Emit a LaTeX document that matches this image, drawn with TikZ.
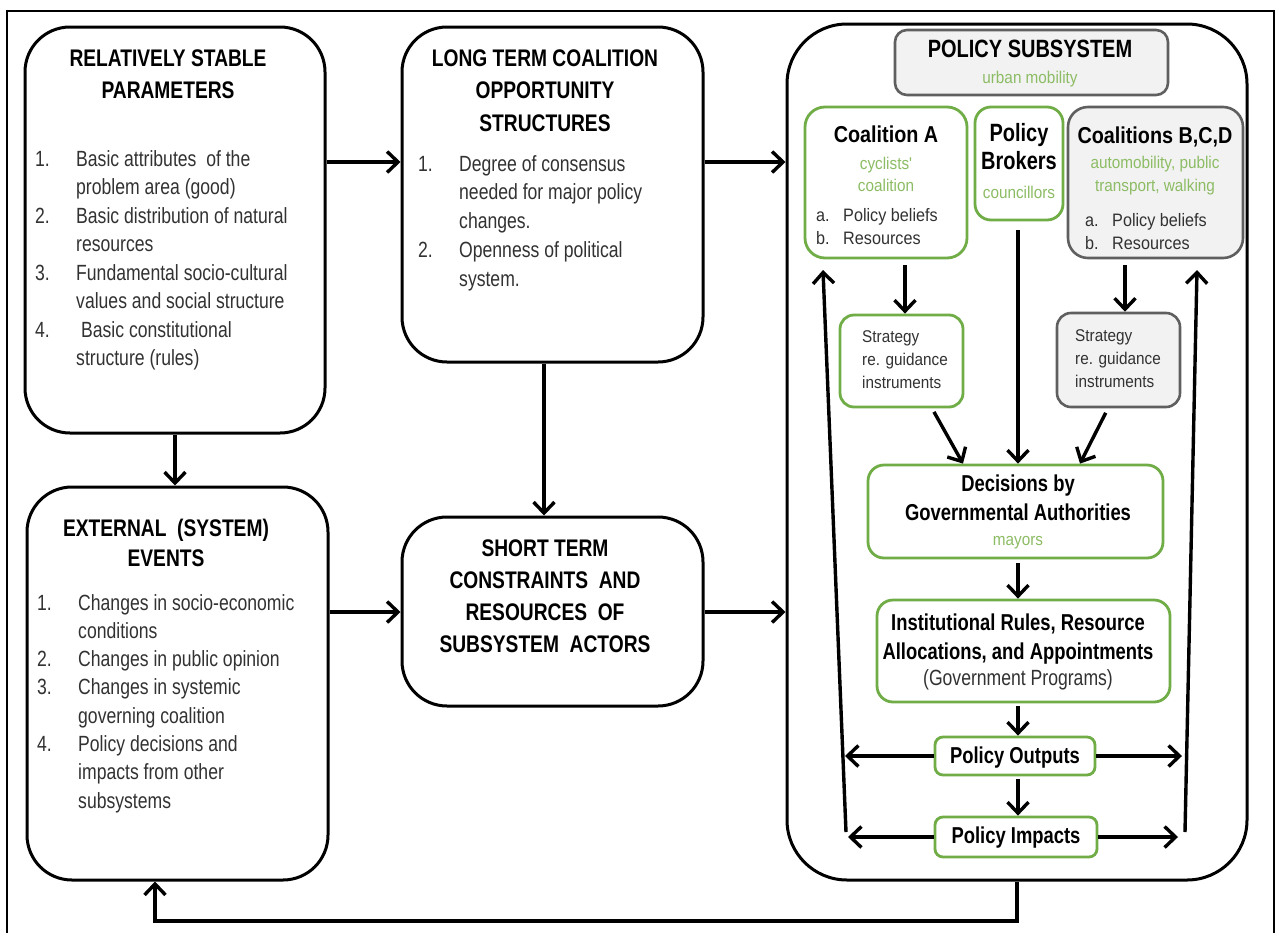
\documentclass[tikz,border=0pt]{standalone}
\usepackage{fontspec}
\setmainfont{Liberation Sans}[FakeStretch=0.8]
\newfontfamily\midfont{Liberation Sans}[FakeStretch=0.86]
\newfontfamily\wfont{Liberation Sans}[FakeStretch=0.9]
\usetikzlibrary{arrows.meta}

\definecolor{leaf}{RGB}{112,173,71}
\definecolor{leaftext}{RGB}{140,188,100}
\definecolor{panel}{RGB}{242,242,242}
\definecolor{panelline}{RGB}{95,95,95}
\definecolor{ink}{RGB}{50,50,50}

% centred stack of lines, baseline at the first line
\newcommand\stack[1]{\begin{tabular}[t]{@{}c@{}}#1\end{tabular}}
% left-aligned stack of lines, baseline at the first line
\newcommand\lstack[1]{\begin{tabular}[t]{@{}l@{}}#1\end{tabular}}
% numbered list: label column of given width, then the text
\newcommand\numlist[2]{\begin{tabular}[t]{@{}p{#1}@{}l@{}}#2\end{tabular}}

\begin{document}
\begin{tikzpicture}[x=1pt,y=-1pt,
  bigbox/.style={draw, line width=3pt, rounded corners=45pt, inner sep=0pt, fill=white},
  greenbox/.style={draw=leaf, line width=2.8pt, rounded corners=14pt, inner sep=0pt, fill=white},
  graybox/.style={draw=panelline, line width=2.6pt, rounded corners=14pt, inner sep=0pt, fill=panel},
  txt/.style={inner sep=0pt, anchor=base},
  ltxt/.style={inner sep=0pt, anchor=base west},
  arr/.style={line width=3.4pt, -{Straight Barb[length=11pt,width=21pt]}},
  bigtitle/.style={font=\fontsize{24}{32}\selectfont\bfseries},
  listfont/.style={font=\fontsize{22}{28.5}\selectfont, text=ink},
  greenfont/.style={font=\wfont\fontsize{17}{22}\selectfont, text=leaftext},
  smallfont/.style={font=\wfont\fontsize{17}{23}\selectfont, text=ink},
  innertitle/.style={font=\fontsize{23}{29}\selectfont\bfseries}
]
\useasboundingbox (0,0) rectangle (1280,932);
\fill[white] (0,0) rectangle (1280,932);

% outer frame
\draw[line width=2.2pt] (7,940) -- (7,11) -- (1274,11) -- (1274,940);

% ---------- left column: relatively stable parameters ----------
\node[bigbox, minimum width=300pt, minimum height=406pt] (rs) at (175,230) {};
\node[txt, bigtitle] (rsT) at (168,66) {\stack{RELATIVELY STABLE\\PARAMETERS}};
\node[ltxt, listfont] (rsL) at (35,166) {\numlist{41pt}{%
  1. & Basic attributes\ \ of the\\
     & problem area (good)\\
  2. & Basic distribution\ of natural\\
     & resources\\
  3. & Fundamental socio-cultural\\
     & values and social structure\\
  4. & \ Basic constitutional\\
     & structure (rules)}};

% ---------- middle column: long term coalition opportunity structures ----------
\node[bigbox, minimum width=301pt, minimum height=335pt] (lt) at (552.5,194.5) {};
\node[txt, font=\fontsize{24}{32.5}\selectfont\bfseries] (ltT) at (545,66)
  {\stack{LONG TERM COALITION\\OPPORTUNITY\\STRUCTURES}};
\node[ltxt, font=\fontsize{22}{28.8}\selectfont, text=ink] (ltL) at (418,171) {\numlist{41pt}{%
  1. & Degree of consensus\\
     & needed for major policy\\
     & changes.\\
  2. & Openness of political\\
     & system.}};

% ---------- left column: external events ----------
\node[bigbox, minimum width=301pt, minimum height=393pt] (ex) at (177.5,683.5) {};
\node[txt, font=\fontsize{24}{30}\selectfont\bfseries] (exT) at (166,536)
  {\stack{EXTERNAL\ \ (SYSTEM)\\EVENTS}};
\node[ltxt, font=\fontsize{22}{28.3}\selectfont, text=ink] (exL) at (37,610) {\numlist{41pt}{%
  1. & Changes in socio-economic\\
     & conditions\\
  2. & Changes in public opinion\\
  3. & Changes in systemic\\
     & governing coalition\\
  4. & Policy decisions and\\
     & impacts from other\\
     & subsystems}};

% ---------- middle column: short term constraints ----------
\node[bigbox, minimum width=301pt, minimum height=189pt] (st) at (552.5,611.5) {};
\node[txt, font=\fontsize{24}{32.3}\selectfont\bfseries] (stT) at (545,556)
  {\stack{SHORT TERM\\CONSTRAINTS\ \ AND\\RESOURCES\ \ OF\\SUBSYSTEM\ \ ACTORS}};

% ---------- policy subsystem ----------
\node[draw, line width=3pt, rounded corners=60pt, inner sep=0pt,
      minimum width=460pt, minimum height=856pt] (sub) at (1017,452) {};

\node[graybox, rounded corners=12pt, minimum width=273pt, minimum height=65pt] (hdr) at (1031.5,62.5) {};
\node[txt, font=\fontsize{25}{30}\selectfont\bfseries] (hdrT) at (1030,57) {POLICY SUBSYSTEM};
\node[txt, greenfont] (hdrS) at (1030,83) {urban mobility};

% coalition A
\node[greenbox, rounded corners=20pt, minimum width=162pt, minimum height=151pt] (ca) at (886,182.5) {};
\node[txt, font=\midfont\fontsize{23}{29}\selectfont\bfseries] (caT) at (886,142) {Coalition A};
\node[txt, greenfont] (caS) at (886,169) {\stack{cyclists'\\coalition}};
\node[ltxt, font=\wfont\fontsize{18}{23.5}\selectfont, text=ink] (caL) at (816,221)
  {\numlist{27pt}{a. & Policy beliefs\\ b. & Resources}};

% policy brokers
\node[greenbox, rounded corners=16pt, minimum width=88pt, minimum height=113pt] (pb) at (1019,163.5) {};
\node[txt, font=\fontsize{25}{28}\selectfont\bfseries] (pbT) at (1019,141) {\stack{Policy\\Brokers}};
\node[txt, greenfont] (pbS) at (1019,198) {councillors};

% coalitions B, C, D
\node[graybox, rounded corners=20pt, minimum width=175pt, minimum height=151pt] (cb) at (1155.5,182.5) {};
\node[txt, font=\midfont\fontsize{23}{29}\selectfont\bfseries] (cbT) at (1155,143) {Coalitions B,C,D};
\node[txt, font=\wfont\fontsize{17}{23}\selectfont, text=leaftext] (cbS) at (1155,168)
  {\stack{automobility, public\\transport, walking}};
\node[ltxt, font=\wfont\fontsize{18}{23.5}\selectfont, text=ink] (cbL) at (1085,226)
  {\numlist{27pt}{a. & Policy beliefs\\ b. & Resources}};

% strategies
\node[greenbox, rounded corners=14pt, minimum width=123pt, minimum height=92pt] (sa) at (901.5,361) {};
\node[ltxt, smallfont] (saT) at (862,342) {\lstack{Strategy\\re. guidance\\instruments}};
\node[graybox, rounded corners=14pt, minimum width=123pt, minimum height=94pt] (sb) at (1118.5,360) {};
\node[ltxt, smallfont] (sbT) at (1075,341) {\lstack{Strategy\\re. guidance\\instruments}};

% decisions
\node[greenbox, rounded corners=16pt, minimum width=295pt, minimum height=93pt] (dec) at (1015.5,511.5) {};
\node[txt, innertitle] (decT) at (1018,491) {\stack{Decisions by\\Governmental Authorities}};
\node[txt, greenfont] (decS) at (1018,545) {mayors};

% institutional rules
\node[greenbox, rounded corners=16pt, minimum width=293pt, minimum height=102pt] (inst) at (1023.5,651) {};
\node[txt, innertitle] (instT) at (1018,630)
  {\stack{Institutional Rules, Resource\\Allocations, and Appointments}};
\node[txt, font=\fontsize{22}{28}\selectfont, text=ink] (instS) at (1018,685) {(Government Programs)};

% outputs and impacts
\node[greenbox, rounded corners=8pt, minimum width=160pt, minimum height=38pt] (po) at (1015,756) {};
\node[txt, innertitle] (poT) at (1015,763) {Policy Outputs};
\node[greenbox, rounded corners=8pt, minimum width=162pt, minimum height=40pt] (pi) at (1016,837) {};
\node[txt, innertitle] (piT) at (1016,843) {Policy Impacts};

% ---------- connectors between the main blocks ----------
\coordinate (r1) at (0,162);
\coordinate (r2) at (0,612);
\coordinate (c1) at (544,0);
\coordinate (fb) at (155,921);
\draw[arr] (rs.east |- r1) -- (lt.west |- r1);
\draw[arr] (lt.east |- r1) -- (sub.west |- r1);
\draw[arr] (rs.south) -- (rs.south |- ex.north);
\draw[arr] (c1 |- lt.south) -- (c1 |- st.north);
\draw[arr] (ex.east |- r2) -- (st.west |- r2);
\draw[arr] (st.east |- r2) -- (sub.west |- r2);
\draw[arr] (sub.south) -- (sub.south |- fb) -- (fb) -- (fb |- ex.south);

% ---------- connectors inside the subsystem ----------
\coordinate (xa) at (905,0);
\coordinate (xb) at (1125,0);
\coordinate (xm) at (1018,0);
\coordinate (sa1) at (932,0);
\coordinate (sa2) at (963,0);
\coordinate (sb1) at (1108,0);
\coordinate (sb2) at (1080,0);
\draw[arr, shorten <=6pt] (xa |- ca.south) -- (xa |- sa.north);
\draw[arr, shorten <=6pt] (xb |- cb.south) -- (xb |- sb.north);
\draw[arr, shorten <=9pt] (xm |- pb.south) -- (xm |- dec.north);
\draw[arr, shorten <=4pt] (sa1 |- sa.south) -- (sa2 |- dec.north);
\draw[arr, shorten <=5pt] (sb1 |- sb.south) -- (sb2 |- dec.north);
\draw[arr, shorten <=4pt] (xm |- dec.south) -- (xm |- inst.north);
\draw[arr, shorten <=3pt] (xm |- inst.south) -- (xm |- po.north);
\draw[arr, shorten <=3pt] (xm |- po.south) -- (xm |- pi.north);

\coordinate (pl) at (845,0);
\coordinate (pr) at (1182,0);
\coordinate (ql) at (848,0);
\coordinate (qr) at (1178,0);
\draw[arr] (po.west) -- (pl |- po.west);
\draw[arr] (po.east) -- (pr |- po.east);
\draw[arr] (pi.west) -- (ql |- pi.west);
\draw[arr] (pi.east) -- (qr |- pi.east);

\coordinate (ul0) at (846,832);
\coordinate (ul1) at (823,270);
\coordinate (ur0) at (1185,832);
\coordinate (ur1) at (1197,270);
\draw[arr] (ul0) -- (ul1);
\draw[arr] (ur0) -- (ur1);
\end{tikzpicture}
\end{document}
